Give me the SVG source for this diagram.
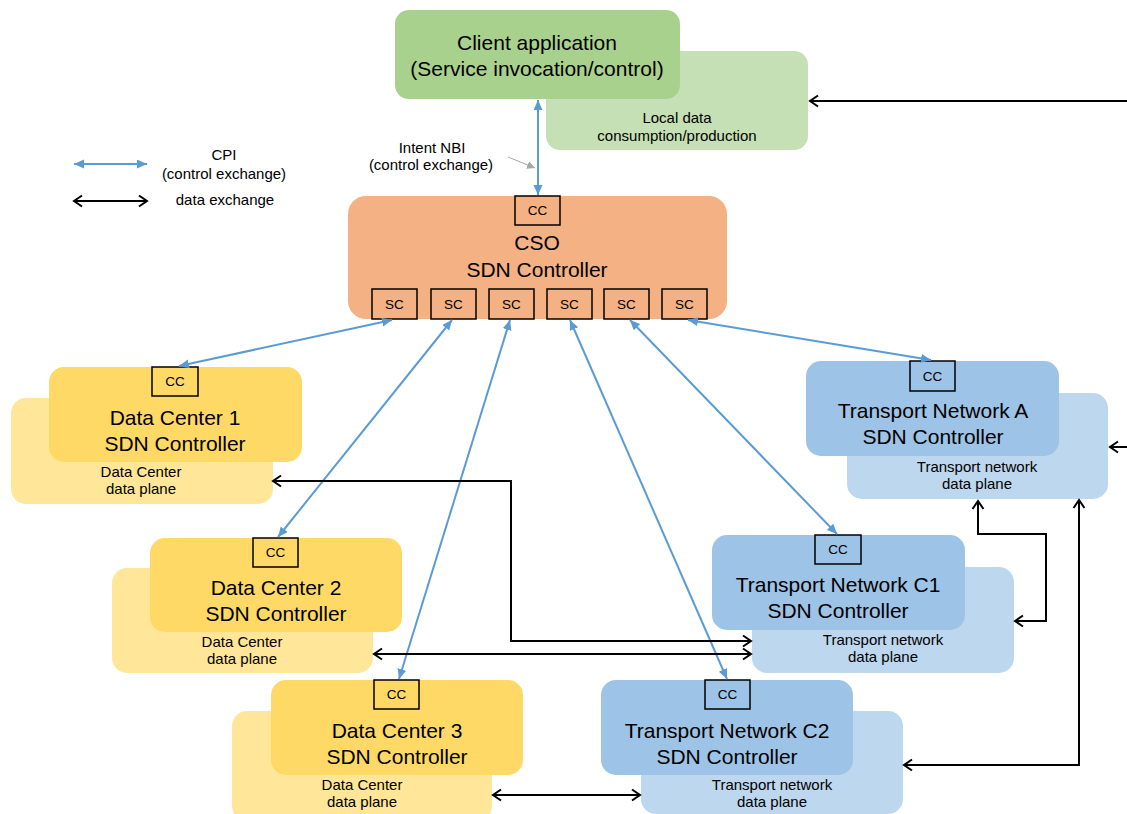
<svg xmlns="http://www.w3.org/2000/svg" width="1127" height="814" viewBox="0 0 1127 814">
<defs>
<style>
text{font-family:"Liberation Sans",Arial,sans-serif;fill:#000;text-anchor:middle}
.t{font-size:21px}
.s{font-size:15px}
.c{font-size:13.5px}
.box{stroke:#000;stroke-width:1.5}
.blue{stroke:#5B9BD5;stroke-width:2;fill:none;marker-start:url(#bh);marker-end:url(#bh)}
.blk{stroke:#000;stroke-width:2;fill:none;marker-start:url(#kh);marker-end:url(#kh)}
.gf{fill:#A9D18E}.gb{fill:#C5E0B4}
.o{fill:#F4B183}
.yf{fill:#FFD966}.yb{fill:#FFE699}
.bf{fill:#9DC3E6}.bb{fill:#BDD7EE}
</style>
<marker id="bh" markerUnits="userSpaceOnUse" markerWidth="12" markerHeight="10" refX="10" refY="4.5" orient="auto-start-reverse">
<path d="M0,0 L10,4.5 L0,9 z" fill="#5B9BD5"/>
</marker>
<marker id="kh" markerUnits="userSpaceOnUse" markerWidth="14" markerHeight="14" refX="10" refY="7" orient="auto-start-reverse">
<path d="M2,1.5 L10,7 L2,12.5" fill="none" stroke="#000" stroke-width="2"/>
</marker>
<marker id="gh" markerUnits="userSpaceOnUse" markerWidth="10" markerHeight="8" refX="8" refY="4" orient="auto">
<path d="M0,0 L8,4 L0,8 z" fill="#A6A6A6"/>
</marker>
</defs>
<rect width="1127" height="814" fill="#fff"/>

<g id="legend">
<line x1="74" y1="164" x2="147" y2="164" class="blue"/>
<text x="224" y="160" class="s">CPI</text>
<text x="224" y="179" class="s">(control exchange)</text>
<line x1="74" y1="201" x2="147" y2="201" class="blk"/>
<text x="225" y="205" class="s">data exchange</text>
</g>

<g id="client">
<rect x="546" y="51" width="262" height="99" rx="14" class="gb"/>
<rect x="395" y="10" width="285" height="89" rx="14" class="gf"/>
<text x="537" y="50" class="t">Client application</text>
<text x="537" y="76" class="t">(Service invocation/control)</text>
<text x="677" y="123" class="s">Local data</text>
<text x="677" y="141" class="s">consumption/production</text>
</g>

<g id="intent-label">
<text x="432" y="153" class="s">Intent NBI</text>
<text x="431" y="170" class="s">(control exchange)</text>
<line x1="508" y1="157" x2="535" y2="168" stroke="#A6A6A6" stroke-width="1" marker-end="url(#gh)"/>
</g>

<g id="cso">
<rect x="348" y="196" width="379" height="123" rx="18" class="o"/>
<rect x="515" y="196" width="45" height="29" class="o box"/>
<text x="537.5" y="215" class="c">CC</text>
<text x="537" y="250" class="t">CSO</text>
<text x="537" y="277" class="t">SDN Controller</text>
<rect x="372" y="289" width="45" height="30" class="o box"/>
<text x="394.5" y="309" class="c">SC</text>
<rect x="431" y="289" width="45" height="30" class="o box"/>
<text x="453.5" y="309" class="c">SC</text>
<rect x="489" y="289" width="45" height="30" class="o box"/>
<text x="511.5" y="309" class="c">SC</text>
<rect x="547" y="289" width="45" height="30" class="o box"/>
<text x="569.5" y="309" class="c">SC</text>
<rect x="604" y="289" width="45" height="30" class="o box"/>
<text x="626.5" y="309" class="c">SC</text>
<rect x="662" y="289" width="45" height="30" class="o box"/>
<text x="684.5" y="309" class="c">SC</text>
</g>

<g id="dc1">
<rect x="11" y="398" width="262" height="106" rx="15" class="yb"/>
<rect x="49" y="367" width="253" height="95" rx="15" class="yf"/>
<rect x="152" y="367" width="46" height="29" class="yf box"/>
<text x="175" y="386" class="c">CC</text>
<text x="175" y="425" class="t">Data Center 1</text>
<text x="175" y="451" class="t">SDN Controller</text>
<text x="141" y="477" class="s">Data Center</text>
<text x="141" y="494" class="s">data plane</text>
</g>

<g id="dc2">
<rect x="112" y="568" width="261" height="105" rx="15" class="yb"/>
<rect x="150" y="538" width="252" height="94" rx="15" class="yf"/>
<rect x="253" y="538" width="45" height="29" class="yf box"/>
<text x="275.5" y="557" class="c">CC</text>
<text x="276" y="595" class="t">Data Center 2</text>
<text x="276" y="621" class="t">SDN Controller</text>
<text x="242" y="647" class="s">Data Center</text>
<text x="242" y="664" class="s">data plane</text>
</g>

<g id="dc3">
<rect x="232" y="711" width="260" height="110" rx="15" class="yb"/>
<rect x="271" y="680" width="252" height="95" rx="15" class="yf"/>
<rect x="374" y="680" width="45" height="29" class="yf box"/>
<text x="396.5" y="699" class="c">CC</text>
<text x="397" y="738" class="t">Data Center 3</text>
<text x="397" y="764" class="t">SDN Controller</text>
<text x="362" y="790" class="s">Data Center</text>
<text x="362" y="807" class="s">data plane</text>
</g>

<g id="tna">
<rect x="847" y="393" width="261" height="106" rx="15" class="bb"/>
<rect x="806" y="361" width="253" height="95" rx="15" class="bf"/>
<rect x="910" y="361" width="45" height="30" class="bf box"/>
<text x="932.5" y="381" class="c">CC</text>
<text x="933" y="418" class="t">Transport Network A</text>
<text x="933" y="444" class="t">SDN Controller</text>
<text x="977" y="472" class="s">Transport network</text>
<text x="977" y="489" class="s">data plane</text>
</g>

<g id="tnc1">
<rect x="752" y="567" width="262" height="106" rx="15" class="bb"/>
<rect x="712" y="535" width="253" height="95" rx="15" class="bf"/>
<rect x="815" y="535" width="46" height="29" class="bf box"/>
<text x="838" y="554" class="c">CC</text>
<text x="838" y="592" class="t">Transport Network C1</text>
<text x="838" y="618" class="t">SDN Controller</text>
<text x="883" y="645" class="s">Transport network</text>
<text x="883" y="662" class="s">data plane</text>
</g>

<g id="tnc2">
<rect x="641" y="711" width="262" height="103" rx="15" class="bb"/>
<rect x="601" y="680" width="252" height="95" rx="15" class="bf"/>
<rect x="705" y="680" width="45" height="29" class="bf box"/>
<text x="727.5" y="699" class="c">CC</text>
<text x="727" y="738" class="t">Transport Network C2</text>
<text x="727" y="764" class="t">SDN Controller</text>
<text x="772" y="790" class="s">Transport network</text>
<text x="772" y="807" class="s">data plane</text>
</g>

<g id="connectors">
<line x1="538" y1="100" x2="538" y2="195" class="blue"/>
<line x1="392" y1="320" x2="179" y2="366" class="blue"/>
<line x1="452" y1="320" x2="278" y2="537" class="blue"/>
<line x1="510" y1="320" x2="399" y2="679" class="blue"/>
<line x1="570" y1="320" x2="727" y2="679" class="blue"/>
<line x1="630" y1="320" x2="837" y2="534" class="blue"/>
<line x1="688" y1="320" x2="931" y2="360" class="blue"/>
<path d="M1127,101 L810,101" stroke="#000" stroke-width="2" fill="none" marker-end="url(#kh)"/>
<path d="M1127,447 L1110,447" stroke="#000" stroke-width="2" fill="none" marker-end="url(#kh)"/>
<path d="M273,481 L511,481 L511,641 L751,641" class="blk"/>
<path d="M374,654 L751,654" class="blk"/>
<path d="M978,501 L978,534 L1046,534 L1046,621 L1015,621" class="blk"/>
<path d="M1079,500 L1079,765 L904,765" class="blk"/>
<path d="M493,795 L640,795" class="blk"/>
</g>
</svg>
